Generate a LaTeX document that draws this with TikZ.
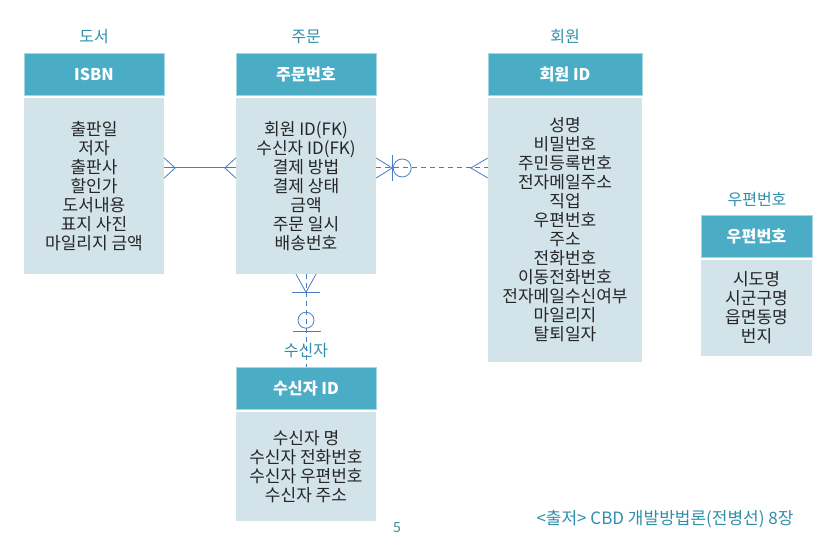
\documentclass[tikz,border=0pt]{standalone}
\usepackage{fontspec}
\setmainfont{Noto Sans CJK KR}
\usetikzlibrary{positioning,calc}
\definecolor{headTeal}{HTML}{4BACC6}
\definecolor{bodyBlue}{HTML}{D2E3EA}
\definecolor{titleTeal}{HTML}{2F8FAA}
\definecolor{linkBlue}{HTML}{4A7EC2}
\begin{document}
\begin{tikzpicture}[x=1pt, y=-1pt,
  font=\fontsize{17}{19}\selectfont,
  % Node Styles
  entity_head/.style={fill=headTeal, draw=headTeal!50!white, text=white, font=\fontsize{16.2}{18}\selectfont\bfseries, minimum height=42pt, inner sep=0pt},
  entity_body/.style={fill=bodyBlue, align=center, inner sep=0pt, text=black!85},
  % Label Styles
  title_lbl/.style={text=titleTeal, font=\fontsize{16}{18}\selectfont},
  src_lbl/.style={text=titleTeal, font=\fontsize{17}{18}\selectfont},
  % Line Styles
  rel_line/.style={draw=linkBlue, line width=1pt},
  opt_line/.style={rel_line, dash pattern=on 5pt off 4pt},
  foot_line/.style={draw=linkBlue, line width=0.8pt}
]
\useasboundingbox (0,0) rectangle (822,537);

% ================= ENTITIES =================

% --- 도서 ---
\node[title_lbl] (book_title) at (94,37) {도서};
\node[entity_head, minimum width=140pt] (book_head) at (94,74) {ISBN};
\node[entity_body, minimum width=140pt, minimum height=176pt] (book_body) at (94,186)
  {출판일\\저자\\출판사\\할인가\\도서내용\\표지 사진\\마일리지 금액};

% --- 주문 ---
\node[title_lbl] (order_title) at (306,37) {주문};
\node[entity_head, minimum width=140pt] (order_head) at (306,74) {주문번호};
\node[entity_body, minimum width=140pt, minimum height=176pt] (order_body) at (306,186)
  {회원 ID(FK)\\수신자 ID(FK)\\결제 방법\\결제 상태\\금액\\주문 일시\\배송번호};

% --- 회원 ---
\node[title_lbl] (member_title) at (565,37) {회원};
\node[entity_head, minimum width=154pt] (member_head) at (565,74) {회원 ID};
\node[entity_body, minimum width=154pt, minimum height=264pt] (member_body) at (565,230)
  {성명\\비밀번호\\주민등록번호\\전자메일주소\\직업\\우편번호\\주소\\전화번호\\이동전화번호\\전자메일수신여부\\마일리지\\탈퇴일자};

% --- 우편번호 ---
\node[title_lbl] (zip_title) at (757,200) {우편번호};
\node[entity_head, minimum width=111pt] (zip_head) at (756.5,236) {우편번호};
\node[entity_body, minimum width=111pt, minimum height=96pt] (zip_body) at (756.5,308)
  {시도명\\시군구명\\읍면동명\\번지};

% --- 수신자 ---
\node[title_lbl] (recv_title) at (306,351) {수신자};
\node[entity_head, minimum width=140pt] (recv_head) at (306,388) {수신자 ID};
\node[entity_body, minimum width=140pt, minimum height=109pt] (recv_body) at (306,466.5)
  {수신자 명\\수신자 전화번호\\수신자 우편번호\\수신자 주소};

% ================= RELATIONS =================
\coordinate (top_link) at (0,168);

% 1. 도서 -- 주문 (many to many)
\draw[rel_line] (book_body.east |- top_link) coordinate (bk_end) -- (order_body.west |- top_link) coordinate (od_west);
\draw[foot_line] ($(bk_end)+(0,-10)$) -- ++(11,10) -- ++(-11,10);
\draw[foot_line] ($(od_west)+(0,-10)$) -- ++(-11,10) -- ++(11,10);

% 2. 주문 -- 회원 (optional)
\draw[opt_line] (order_body.east |- top_link) coordinate (od_east) -- (member_body.west |- top_link) coordinate (mb_west);
\draw[foot_line] ($(od_east)+(0,-10)$) -- ++(16,10) -- ++(-16,10);
\draw[foot_line] ($(od_east)+(16,-13)$) -- ++(0,26);
\draw[foot_line] ($(od_east)+(26,0)$) circle (9pt);
\draw[foot_line] ($(mb_west)+(0,-10)$) -- ++(-17,10) -- ++(17,10);

% 3. 주문 -- 수신자 (optional)
\draw[opt_line] (order_body.south) coordinate (od_south) -- (recv_head.north);
\draw[foot_line] ($(od_south)+(-10,0)$) -- ++(10,18) -- ++(10,-18);
\draw[foot_line] ($(od_south)+(-14,18)$) -- ++(28,0);
\draw[foot_line] ($(od_south)+(0,46)$) circle (8pt);
\draw[foot_line] ($(od_south)+(-13,57)$) -- ++(28,0);

% ================= NOTES =================
\node[text=titleTeal!70!gray, font=\fontsize{14}{15}\selectfont] (page_no) at (397,528) {5};
\node[src_lbl] (source) at (665,519) {<출저> CBD 개발방법론(전병선) 8장};

\end{tikzpicture}
\end{document}
